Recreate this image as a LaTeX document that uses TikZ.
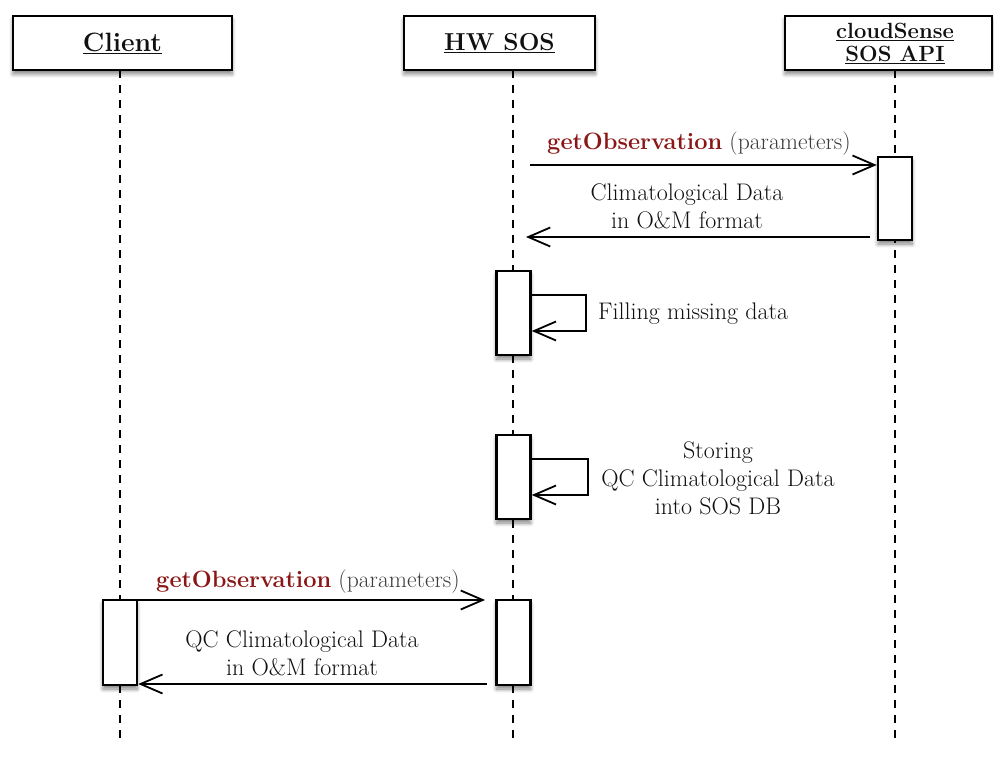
\documentclass[tikz,border=0pt]{standalone}
\usepackage{fontspec}
\usetikzlibrary{arrows.meta,shadows.blur,calc}
\definecolor{msgred}{HTML}{8A1616}
\definecolor{paramgray}{HTML}{3C3C3C}
\definecolor{inkgray}{HTML}{101010}
\newcommand{\inkfont}[1]{\fontsize{#1}{28}\selectfont\addfontfeatures{FakeBold=0.35}}
\begin{document}
\begin{tikzpicture}[x=1pt,y=-1pt,
  boxshadow/.style={blur shadow={shadow xshift=0pt,shadow yshift=-4pt,
      shadow blur radius=4pt,shadow blur steps=8,shadow opacity=50}},
  header/.style={draw=black,line width=2.6pt,fill=white,boxshadow,inner sep=0pt,
      align=center,text=inkgray,font=\fontsize{26.5}{30}\selectfont\bfseries},
  actbar/.style={draw=black,line width=2.5pt,fill=white,boxshadow,inner sep=0pt,
      minimum width=34pt},
  lifeline/.style={line width=1.5pt,dash pattern=on 8pt off 7pt},
  msg/.style={line width=1.8pt,-{Straight Barb[length=22pt,width=19pt,line width=1.8pt]}},
  label/.style={text=inkgray,align=center,inner sep=0pt,font=\inkfont{24}},
  call/.style={label,font=\inkfont{23.6}}
]
\useasboundingbox (0,0) rectangle (994,757);

% lifelines
\draw[lifeline] (120,70) -- (120,742);
\draw[lifeline] (513,70) -- (513,742);
\draw[lifeline] (895,70) -- (895,742);

% participants
\node[header,minimum width=219pt,minimum height=54pt] (client) at (122.5,43) {\underline{Client}};
\node[header,minimum width=191pt,minimum height=54pt,
      font=\fontsize{24.5}{30}\selectfont\bfseries] (hwsos) at (499.5,43) {\underline{HW SOS}};
\node[header,minimum width=207pt,minimum height=54pt] (cloud) at (888.5,43) {};
\node[align=center,inner sep=0pt,text=inkgray,
      font=\fontsize{22}{23}\selectfont\bfseries] (cloudname) at (895,43)
      {\underline{cloudSense}\\[0pt]\underline{SOS API}};

% activation bars
\node[actbar,minimum height=83pt] (cs1) at (895,198.5) {};
\node[actbar,minimum height=84pt] (hw1) at (513.5,313) {};
\node[actbar,minimum height=84pt] (hw2) at (513.5,477) {};
\node[actbar,minimum height=85pt] (cl1) at (120,642.5) {};
\node[actbar,minimum height=85pt] (hw3) at (513.5,642.5) {};

% anchor points of the messages
\coordinate (m1s) at (530,165);
\coordinate (m2s) at (870,237);
\coordinate (m2e) at (526,237);
\coordinate (m5e) at (485,600);
\coordinate (m6s) at (487,684);

% request to the cloudSense service
\draw[msg] (m1s) -- (cs1.west |- m1s);
\node[call,anchor=base] (m1l) at (699,150)
  {\textcolor{msgred}{\bfseries getObservation} \textcolor{paramgray}{(parameters)}};

% response with the climatological data
\draw[msg] (m2s) -- (m2e);
\node[label] (m2l) at (687,206) {Climatological Data\\in O\&M format};

% gap filling
\draw[msg] (hw1.east |- 0,295) -- ++(54,0) -- ++(0,36) -- (hw1.east |- 0,331);
\node[label,anchor=west] (f1) at (598,314) {Filling missing data};

% storing into the database
\draw[msg] (hw2.east |- 0,459) -- ++(56,0) -- ++(0,36) -- (hw2.east |- 0,495);
\node[label] (s1) at (718,478) {Storing\\QC Climatological Data\\into SOS DB};

% client request
\draw[msg] (cl1.east |- m5e) -- (m5e);
\node[call,anchor=base] (m5l) at (308,587)
  {\textcolor{msgred}{\bfseries getObservation} \textcolor{paramgray}{(parameters)}};

% reply to the client
\draw[msg] (m6s) -- (cl1.east |- m6s);
\node[label] (m6l) at (302,653) {QC Climatological Data\\in O\&M format};
\end{tikzpicture}
\end{document}
